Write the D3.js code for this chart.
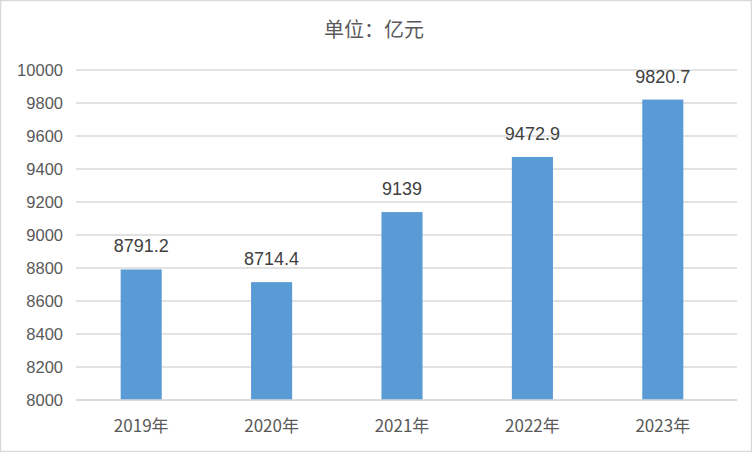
<!DOCTYPE html>
<html><head><meta charset="utf-8">
<script src="https://cdn.jsdelivr.net/npm/d3@7"></script>
<style>body{margin:0;background:#fff}svg{display:block}</style>
</head><body>
<script>
const categories = ["2019年","2020年","2021年","2022年","2023年"];
const values = [8791.2, 8714.4, 9139, 9472.9, 9820.7];
const labels = ["8791.2","8714.4","9139","9472.9","9820.7"];
const yTicks = [8000,8200,8400,8600,8800,9000,9200,9400,9600,9800,10000];
const title = "单位：亿元";

const W=752,H=452;
const svg=d3.select("body").append("svg").attr("width",W).attr("height",H);
svg.append("rect").attr("x",0.5).attr("y",0.5).attr("width",W-1).attr("height",H-1)
  .attr("fill","#fff").attr("stroke","#d9d9d9").attr("stroke-width",1.5);

const y=d3.scaleLinear().domain([8000,10000]).range([400,70]);
const x=d3.scaleBand().domain(categories).range([76,728]).paddingInner(0.685).paddingOuter(0.3425);
const font="'Liberation Sans', Arial, sans-serif";
const cjk="'Noto Sans CJK SC', sans-serif";

// gridlines
svg.append("g").selectAll("line").data(yTicks).join("line")
  .attr("x1",76).attr("x2",737).attr("y1",d=>y(d)).attr("y2",d=>y(d))
  .attr("stroke","#d9d9d9").attr("stroke-width",1.5);

// y axis labels
const yAxis=d3.axisLeft(y).tickValues(yTicks).tickSize(0).tickPadding(0).tickFormat(d3.format("d"));
const gy=svg.append("g").attr("transform","translate(63,0)").call(yAxis);
gy.select(".domain").remove();
gy.selectAll("text").attr("font-family",font).attr("font-size",16.5).attr("fill","#595959").attr("dy","0.35em");

// bars
svg.append("g").selectAll("rect").data(values).join("rect")
  .attr("x",(d,i)=>x(categories[i])).attr("width",x.bandwidth())
  .attr("y",d=>y(d)).attr("height",d=>y(8000)-y(d)).attr("fill","#5b9bd5");

// baseline
svg.append("line").attr("x1",76).attr("x2",737).attr("y1",y(8000)).attr("y2",y(8000))
  .attr("stroke","#d9d9d9").attr("stroke-width",1.5);

// value labels
svg.append("g").selectAll("text").data(values).join("text")
  .attr("x",(d,i)=>x(categories[i])+x.bandwidth()/2).attr("y",d=>y(d)-17)
  .attr("text-anchor","middle").attr("font-family",font).attr("font-size",18).attr("fill","#404040")
  .text((d,i)=>labels[i]);

// x axis labels
const xAxis=d3.axisBottom(x).tickSize(0).tickPadding(0);
const gx=svg.append("g").call(xAxis);
gx.select(".domain").remove();
gx.selectAll(".tick text").attr("y",432).attr("dy",0).attr("font-family",cjk).attr("font-size",17).attr("fill","#595959");

// title
svg.append("text").attr("x",374).attr("y",37).attr("text-anchor","middle")
  .attr("font-family",cjk).attr("font-size",20).attr("fill","#595959").text(title);
</script>
</body></html>
